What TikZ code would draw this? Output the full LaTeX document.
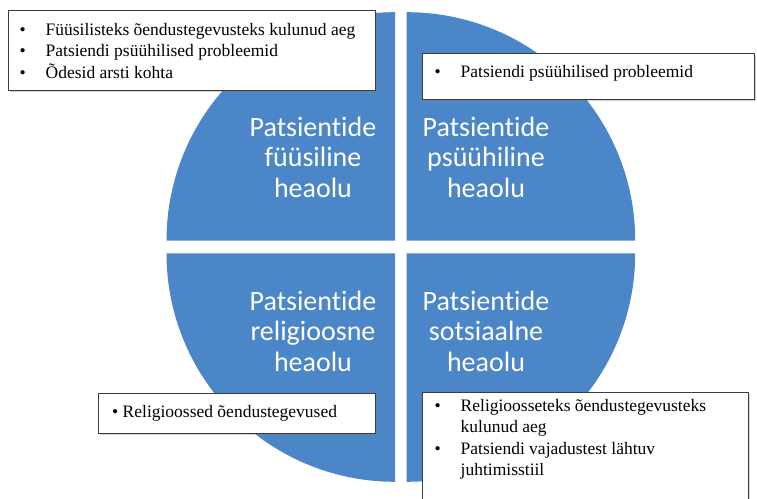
\documentclass[tikz,border=0pt]{standalone}
\usepackage{fontspec}
\setmainfont{Liberation Serif}
\newfontfamily\quadfont[Ligatures=NoCommon]{Carlito}
\usetikzlibrary{shadows}
\definecolor{quadblue}{RGB}{74,134,200}
\definecolor{boxline}{RGB}{60,60,60}
\newcommand{\itm}[1]{\makebox[26pt][l]{\textbullet}#1}
\newcommand{\cont}[1]{\hspace*{26pt}#1}
\tikzset{
  quad/.style={fill=quadblue},
  qlabel/.style={text=white, font=\quadfont\fontsize{28}{30.5}\selectfont, align=center},
  notebox/.style={draw=boxline, line width=1.2pt, fill=white, anchor=north west, inner sep=0pt,
    drop shadow={shadow xshift=1.2pt, shadow yshift=-1.2pt, opacity=0.35}},
  notetext/.style={font=\fontsize{17.5}{21.5}\selectfont, align=left, inner sep=0pt},
}
\begin{document}
\begin{tikzpicture}[x=1pt,y=1pt]
  \useasboundingbox (0,0) rectangle (757,498);
  \clip (0,0) rectangle (757,498);
  % four quarters of the circle
  \fill[quad] (395,257.3) -- ++(-228.5,0) arc[start angle=180, end angle=90, radius=228.5pt] -- cycle;
  \fill[quad] (406.7,257.3) -- ++(0,228.5) arc[start angle=90, end angle=0, radius=228.5pt] -- cycle;
  \fill[quad] (395,244.7) -- ++(0,-228.5) arc[start angle=270, end angle=180, radius=228.5pt] -- cycle;
  \fill[quad] (406.7,244.7) -- ++(228.5,0) arc[start angle=0, end angle=-90, radius=228.5pt] -- cycle;

  \node[qlabel] (fys) at (313,341) {Patsientide\\füüsiline\\heaolu};
  \node[qlabel] (psy) at (486,341) {Patsientide\\psüühiline\\heaolu};
  \node[qlabel] (rel) at (313,167) {Patsientide\\religioosne\\heaolu};
  \node[qlabel] (sot) at (486,167) {Patsientide\\sotsiaalne\\heaolu};

  % notes
  \node[notebox, minimum width=367pt, minimum height=80pt] (b1) at (8,488) {};
  \node[notetext, anchor=west] (t1) at ([xshift=11.5pt]b1.west)
    {\itm{Füüsilisteks õendustegevusteks kulunud aeg}\\
     \itm{Patsiendi psüühilised probleemid}\\
     \itm{Õdesid arsti kohta}};

  \node[notebox, minimum width=332pt, minimum height=46pt] (b2) at (422,445) {};
  \node[notetext, anchor=west] (t2) at ([xshift=12.5pt, yshift=3pt]b2.west)
    {\itm{Patsiendi psüühilised probleemid}};

  \node[notebox, minimum width=277pt, minimum height=40pt] (b3) at (98,105) {};
  \node[notetext, anchor=west] (t3) at ([xshift=14pt]b3.west)
    {\textbullet\ Religioossed õendustegevused};

  \node[notebox, minimum width=326pt, minimum height=130pt] (b4) at (422,106) {};
  \node[notetext, anchor=north west] (t4) at ([xshift=12.5pt, yshift=-7pt]b4.north west)
    {\itm{Religioosseteks õendustegevusteks}\\
     \cont{kulunud aeg}\\
     \itm{Patsiendi vajadustest lähtuv}\\
     \cont{juhtimisstiil}};
\end{tikzpicture}
\end{document}
